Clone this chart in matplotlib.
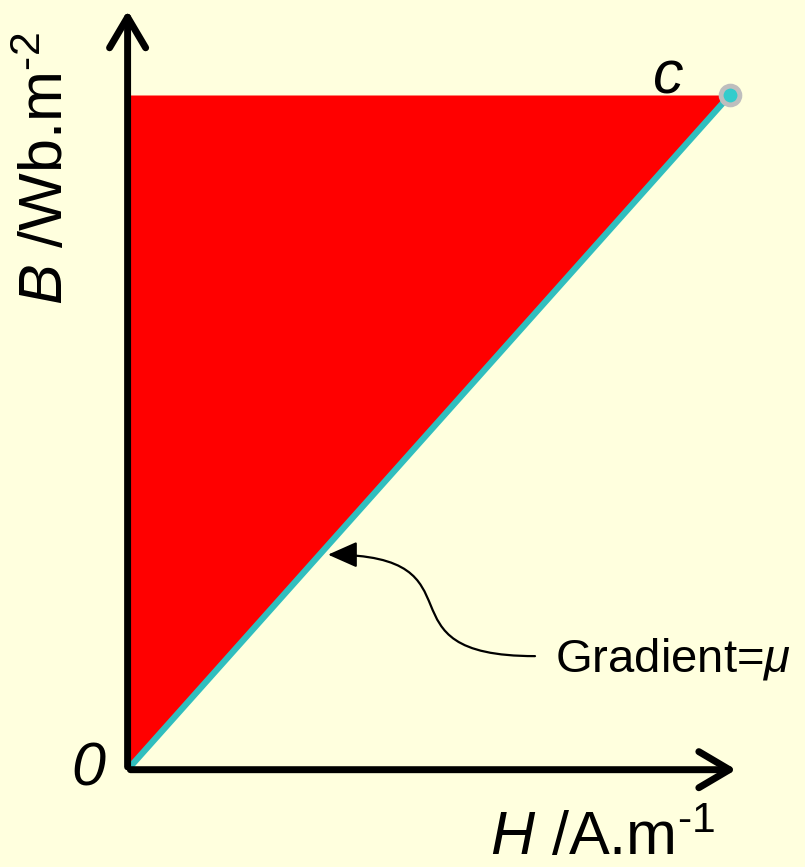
"""
B-H Diagramm: linearer Zusammenhang B = mu*H bis zum Punkt c,
Flaeche zwischen B-Achse und Gerade rot gefuellt.
"""

import numpy as np
import matplotlib
matplotlib.use("Agg")
from matplotlib import pyplot as plt
from matplotlib.patches import FancyArrowPatch
from matplotlib.path import Path

# Daten (normiert, Punkt c bei H=1, B=1)
H_werte = [0.0, 1.0]
B_werte = [0.0, 1.0]
punkt_namen = ["0", "c"]

# Stuetzpunkte der geschwungenen Beschriftungslinie (Bezier)
pfeil_x = [0.675, 0.40, 0.60, 0.33]
pfeil_y = [0.165, 0.165, 0.316, 0.316]

hintergrund = "#FFFFDE"
tuerkis = "#30BEBE"

plt.rcParams["font.family"] = ["Liberation Sans", "DejaVu Sans"]
plt.rcParams["mathtext.fontset"] = "custom"
plt.rcParams["mathtext.rm"] = "Liberation Sans"
plt.rcParams["mathtext.it"] = "Liberation Sans:italic"

fig = plt.figure(figsize=(8.05, 8.67), dpi=100, facecolor=hintergrund)
ax = fig.add_axes([0, 0, 1, 1])
ax.set_facecolor(hintergrund)
ax.set_xlim(-130 / 600, 675 / 600)
ax.set_ylim(-100 / 672, 767 / 672)
ax.axis("off")

# Flaeche zwischen B-Achse und Gerade
ax.fill_betweenx(B_werte, 0, H_werte, color="red", lw=0, zorder=1)

# Gerade mit Steigung mu
ax.plot(H_werte, B_werte, color=tuerkis, lw=4.5, solid_capstyle="butt", zorder=2)
ax.plot(H_werte[-1], B_werte[-1], "o", ms=13.5, mfc="#33CCCC", mec="#BEBEBE",
        mew=3.5, zorder=4)

# Achsen als Pfeile
for ziel in [(1.015, -0.004), (-0.004, 1.13)]:
    pfeil = FancyArrowPatch((-0.004, -0.004), ziel,
                            arrowstyle="->,head_length=1.1,head_width=0.65",
                            mutation_scale=20, lw=5, color="black",
                            capstyle="round", joinstyle="round", zorder=3)
    ax.add_patch(pfeil)

# Beschriftungen
ax.text(-0.07, -0.005, punkt_namen[0], fontsize=44, style="italic",
        ha="center", va="center")
ax.text(H_werte[-1] - 0.103, B_werte[-1] + 0.025, punkt_namen[1], fontsize=44,
        style="italic", ha="center", va="center")
ax.text(-0.138, 0.6875, r"$\mathit{B}$ /Wb.m$^{\text{-2}}$", fontsize=44,
        rotation=90, ha="center", va="bottom")
ax.text(0.6, -0.131, r"$\mathit{H}$ /A.m$^{\text{-1}}$", fontsize=44,
        ha="left", va="baseline")
ax.text(0.708, 0.16, r"Gradient=$\mathit{\mu}$", fontsize=34,
        ha="left", va="center")

kurve = Path(list(zip(pfeil_x, pfeil_y)),
             [Path.MOVETO, Path.CURVE4, Path.CURVE4, Path.CURVE4])
ax.add_patch(FancyArrowPatch(path=kurve,
                             arrowstyle="-|>,head_length=0.9,head_width=0.4",
                             mutation_scale=20, lw=1.6, color="black", zorder=5))

fig.savefig("out.png", dpi=100, facecolor=hintergrund)
